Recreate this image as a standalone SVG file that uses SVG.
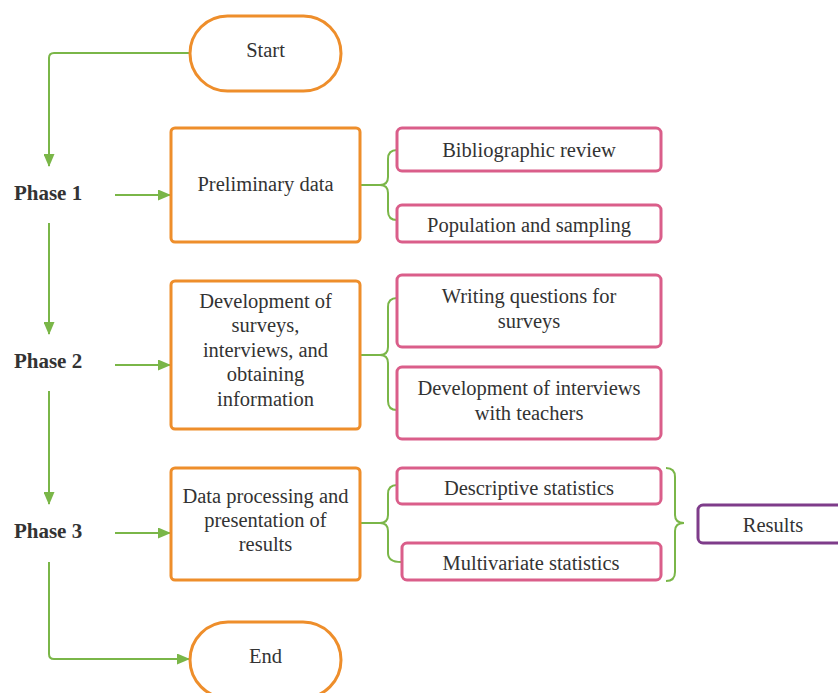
<svg xmlns="http://www.w3.org/2000/svg" width="838" height="693" viewBox="0 0 838 693">
<defs>
<marker id="ah" markerWidth="13" markerHeight="11" refX="12" refY="5.5" orient="auto" markerUnits="userSpaceOnUse" viewBox="0 0 13 11">
<path d="M0,0 L13,5.5 L0,11 Z" fill="#7AB648"/>
</marker>
<style>
.t{font-family:"Liberation Serif","Times New Roman",serif;font-size:20.5px;fill:#333;text-anchor:middle}
.ph{font-family:"Liberation Serif","Times New Roman",serif;font-size:21px;font-weight:bold;fill:#333;text-anchor:middle}
.or{fill:#fff;stroke:#EE8E2B;stroke-width:3}
.pk{fill:#fff;stroke:#DA5E8A;stroke-width:3}
.pu{fill:#fff;stroke:#7E3C8A;stroke-width:3}
.ln{fill:none;stroke:#7AB648;stroke-width:2}
.ar{fill:none;stroke:#7AB648;stroke-width:2;marker-end:url(#ah)}
</style>
</defs>
<rect width="838" height="693" fill="#fff"/>
<g id="connectors">
<path class="ar" d="M190,53 H54 Q49,53 49,58 V166"/>
<path class="ar" d="M49,223 V334"/>
<path class="ar" d="M49,391 V504"/>
<path class="ar" d="M49,562 V654 Q49,659 54,659 H189"/>
<path class="ar" d="M115,195 H170"/>
<path class="ar" d="M115,365 H170"/>
<path class="ar" d="M115,533 H170"/>
<path class="ln" d="M360,185 H380 Q388,185 388,177 V159 Q388,150 397,150 M380,185 Q388,185 388,193 V211 Q388,220 397,220"/>
<path class="ln" d="M360,355 H380 Q388,355 388,347 V307 Q388,298 397,298 M380,355 Q388,355 388,363 V401 Q388,410 397,410"/>
<path class="ln" d="M360,523 H380 Q388,523 388,515 V494 Q388,485 397,485 M380,523 Q388,523 388,531 V553 Q388,562 401,562"/>
<path class="ln" d="M666,468 Q675,468 675,477 V515 Q675,523 684,523 Q675,523 675,531 V572 Q675,581 666,581"/>
</g>
<g id="start"><rect class="or" x="190" y="16" width="151" height="75" rx="37.5"/><text class="t" x="265.5" y="57">Start</text></g>
<g id="phase1"><text class="ph" x="48" y="200">Phase 1</text></g>
<g id="phase2"><text class="ph" x="48" y="368">Phase 2</text></g>
<g id="phase3"><text class="ph" x="48" y="538">Phase 3</text></g>
<g id="prelim"><rect class="or" x="171" y="128" width="189" height="114" rx="4"/><text class="t" x="265.5" y="191">Preliminary data</text></g>
<g id="dev"><rect class="or" x="171" y="281" width="189" height="148" rx="4"/><text class="t" x="265.5" y="308">Development of</text><text class="t" x="265.5" y="332">surveys,</text><text class="t" x="265.5" y="357">interviews, and</text><text class="t" x="265.5" y="381">obtaining</text><text class="t" x="265.5" y="406">information</text></g>
<g id="dataproc"><rect class="or" x="171" y="468" width="189" height="112" rx="4"/><text class="t" x="265.5" y="503">Data processing and</text><text class="t" x="265.5" y="527">presentation of</text><text class="t" x="265.5" y="551">results</text></g>
<g id="end"><rect class="or" x="190" y="622" width="151" height="76" rx="38"/><text class="t" x="265.5" y="663">End</text></g>
<g id="biblio"><rect class="pk" x="397" y="128" width="264" height="43" rx="5"/><text class="t" x="529" y="157">Bibliographic review</text></g>
<g id="pop"><rect class="pk" x="397" y="205" width="264" height="37" rx="5"/><text class="t" x="529" y="232">Population and sampling</text></g>
<g id="writing"><rect class="pk" x="397" y="275" width="264" height="72" rx="5"/><text class="t" x="529" y="303">Writing questions for</text><text class="t" x="529" y="328">surveys</text></g>
<g id="devint"><rect class="pk" x="397" y="367" width="264" height="72" rx="5"/><text class="t" x="529" y="395">Development of interviews</text><text class="t" x="529" y="420">with teachers</text></g>
<g id="desc"><rect class="pk" x="397" y="468" width="264" height="36" rx="5"/><text class="t" x="529" y="495">Descriptive statistics</text></g>
<g id="multi"><rect class="pk" x="402" y="543" width="259" height="37" rx="5"/><text class="t" x="531" y="570">Multivariate statistics</text></g>
<g id="results"><rect class="pu" x="698" y="505" width="150" height="38" rx="5"/><text class="t" x="773" y="532">Results</text></g>
</svg>
